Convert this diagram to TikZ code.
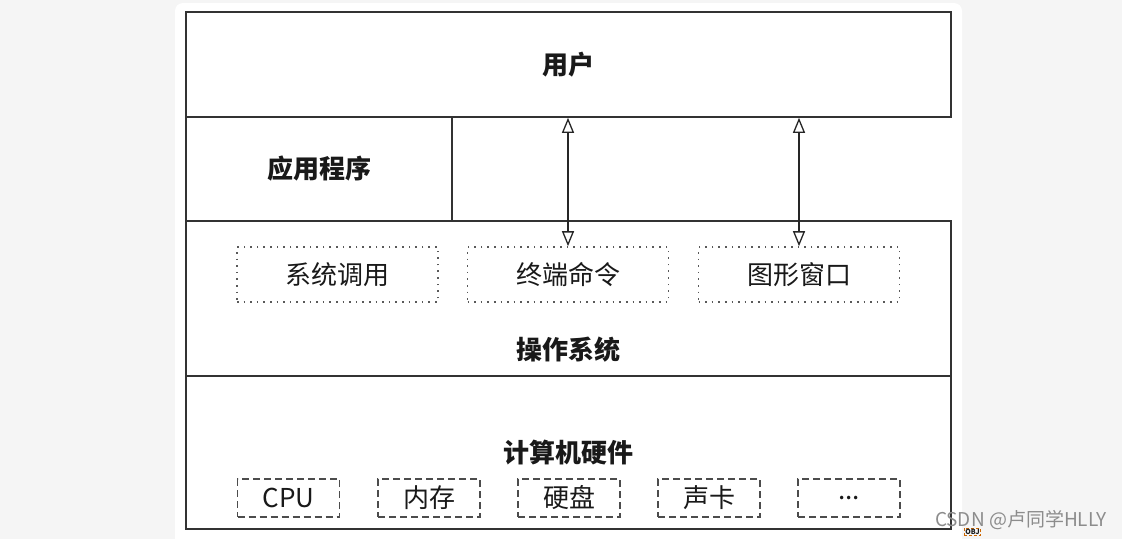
\documentclass[tikz,border=0pt]{standalone}
\usepackage{fontspec}
\setmainfont{Noto Sans CJK SC}
\usetikzlibrary{arrows.meta}

\begin{document}
\begin{tikzpicture}
  [x=1pt, y=-1pt,
   every node/.style={font=\fontsize{26}{29}\selectfont, text=black!90, inner sep=0pt},
   layer/.style={draw=black!80, line width=1.6pt, minimum height=#1},
   dotbox/.style={draw=black!65, line width=1.6pt, dash pattern=on 1.6pt off 5pt, minimum width=201pt, minimum height=55pt},
   dashbox/.style={draw=black!70, line width=1.3pt, dash pattern=on 7pt off 4pt, minimum width=102pt, minimum height=38pt},
   title/.style={font=\fontsize{26}{29}\selectfont\bfseries},
   both/.style={{Triangle[open, length=15pt, width=12pt, line width=1.3pt]}-{Triangle[open, length=15pt, width=12pt, line width=1.3pt]}, line width=1.3pt, draw=black!85}]
  % page and card
  \fill[black!4] (0,0) rectangle (1122,539);
  \fill[white, rounded corners=8pt] (175,3) rectangle (962,550);

  % layers
  \node[layer=105pt, minimum width=765pt] (user) at (568.5,64.5) {};
  \node[layer=104pt, minimum width=266pt] (app) at (319,169) {};
  \node[layer=155pt, minimum width=765pt] (os) at (568.5,298.5) {};
  \node[layer=153pt, minimum width=765pt] (hw) at (568.5,452.5) {};

  \node[title] (userlbl) at (user) {用户};
  \node[title] (applbl) at (app) {应用程序};
  \node[title] (oslbl) at (568,350) {操作系统};
  \node[title] (hwlbl) at (568,453) {计算机硬件};

  % interfaces of the os
  \node[dotbox] (syscall) at (337.5,274.5) {系统调用};
  \node[dotbox] (tty) at (568,274.5) {终端命令};
  \node[dotbox] (gui) at (799,274.5) {图形窗口};

  \draw[both] (user.south -| tty.north) -- (tty.north);
  \draw[both] (user.south -| gui.north) -- (gui.north);

  % hardware parts
  \node[dashbox] (cpu) at (288.5,498) {CPU};
  \node[dashbox] (mem) at (429,498) {内存};
  \node[dashbox] (disk) at (569,498) {硬盘};
  \node[dashbox] (sound) at (709,498) {声卡};
  \node[dashbox] (more) at (849,498) {...};

  % watermark
  \node[font=\fontsize{19}{21}\selectfont, text=black!45] (mark) at (1021,520) {CSDN @卢同学HLLY};
  \node[font=\fontsize{7}{8}\selectfont\bfseries, draw=orange!80!black, densely dashed, line width=0.5pt, inner sep=1pt] (obj) at (972.5,532) {OBJ};
\end{tikzpicture}
\end{document}
